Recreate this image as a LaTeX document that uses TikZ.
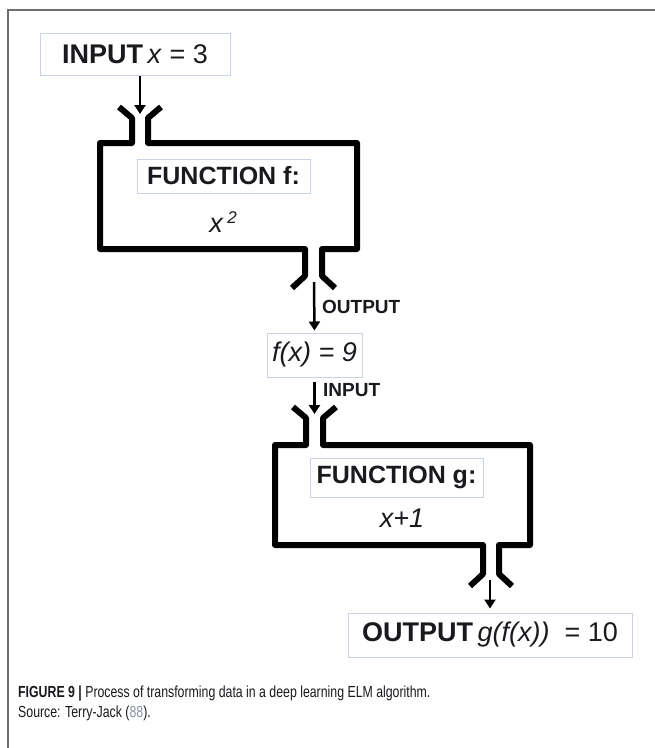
\documentclass[tikz,border=0pt]{standalone}
\usepackage{fontspec}
\setmainfont{Liberation Sans}
\newfontfamily\capfont[FakeStretch=0.77]{Liberation Sans}
\usetikzlibrary{arrows.meta}
\definecolor{boxline}{RGB}{200,210,228}
\definecolor{framegray}{RGB}{110,110,110}
\definecolor{refblue}{RGB}{135,145,165}
\definecolor{ink}{RGB}{25,25,30}
\begin{document}
\begin{tikzpicture}[x=1pt,y=-1pt,
  tbox/.style={draw=boxline,line width=1pt,inner sep=0pt,text=ink,font=\fontsize{27}{30}\selectfont},
  fname/.style={inner sep=0pt,text=ink,font=\fontsize{27}{30}\selectfont\itshape},
  wall/.style={line width=6pt,line join=round},
  flow/.style={line width=2.5pt,-{Triangle[width=11pt,length=9pt]}},
  tag/.style={anchor=west,inner sep=0pt,text=ink,font=\fontsize{19}{20}\selectfont\bfseries},
  capline/.style={anchor=base west,inner sep=0pt,text=ink,font=\capfont\fontsize{16}{20}\selectfont}]
\useasboundingbox (0,0) rectangle (655,748);
% frame
\draw[framegray,line width=1.5pt] (8,748) -- (8,10) -- (655,10);

% text boxes
\node[tbox,minimum width=190,minimum height=42] (inbox) at (135,54) {\textbf{INPUT}\,\textit{x} = 3};
\node[tbox,minimum width=173,minimum height=34,font=\fontsize{25}{28}\selectfont\bfseries] (funcf) at (223.5,176) {FUNCTION f:};
\node[fname] (sqf) at (223,222) {x\,\raisebox{9pt}{\fontsize{17}{17}\selectfont 2}};
\node[tbox,minimum width=95,minimum height=44] (fx) at (314.5,355) {\textit{f(x) = 9}};
\node[tbox,minimum width=173,minimum height=39,font=\fontsize{25}{28}\selectfont\bfseries] (funcg) at (396.5,477.5) {FUNCTION g:};
\node[fname] (incg) at (402,518) {x+1};
\node[tbox,minimum width=284,minimum height=44] (outbox) at (490,635) {\textbf{OUTPUT}\,\textit{g(f(x))} \ = 10};

% function f
\draw[wall] (119,107) -- (132,118) -- (132,143) -- (100,143) -- (100,249) -- (305,249) -- (305,276) -- (292,288);
\draw[wall] (335,288) -- (322,276) -- (322,249) -- (357,249) -- (357,143) -- (148,143) -- (148,118) -- (161,107);
% function g
\draw[wall] (293,407) -- (306,418) -- (306,445) -- (275,445) -- (275,545) -- (483,545) -- (483,574) -- (470,586);
\draw[wall] (512,586) -- (499,574) -- (499,545) -- (530,545) -- (530,445) -- (323,445) -- (323,418) -- (336,407);

% arrows
\coordinate (fin) at (140,114);
\coordinate (fout) at (314,282);
\coordinate (gin) at (314.5,414);
\coordinate (gout) at (490,580);
\draw[flow] (inbox.south -| fin) -- (fin);
\draw[flow,shorten >=2pt] (fout) -- (fx.north);
\draw[flow,shorten <=4pt] (fx.south) -- (gin);
\draw[flow,shorten >=4pt] (gout) -- (outbox.north);
\node[tag] (outtag) at (322,307) {OUTPUT};
\node[tag] (intag) at (323,390) {INPUT};

% caption
\node[capline] (cap1) at (18,697) {\textbf{FIGURE 9 |} Process of transforming data in a deep learning ELM algorithm.};
\node[capline] (cap2) at (18,717) {Source: Terry-Jack ({\color{refblue}88}).};
\end{tikzpicture}
\end{document}
